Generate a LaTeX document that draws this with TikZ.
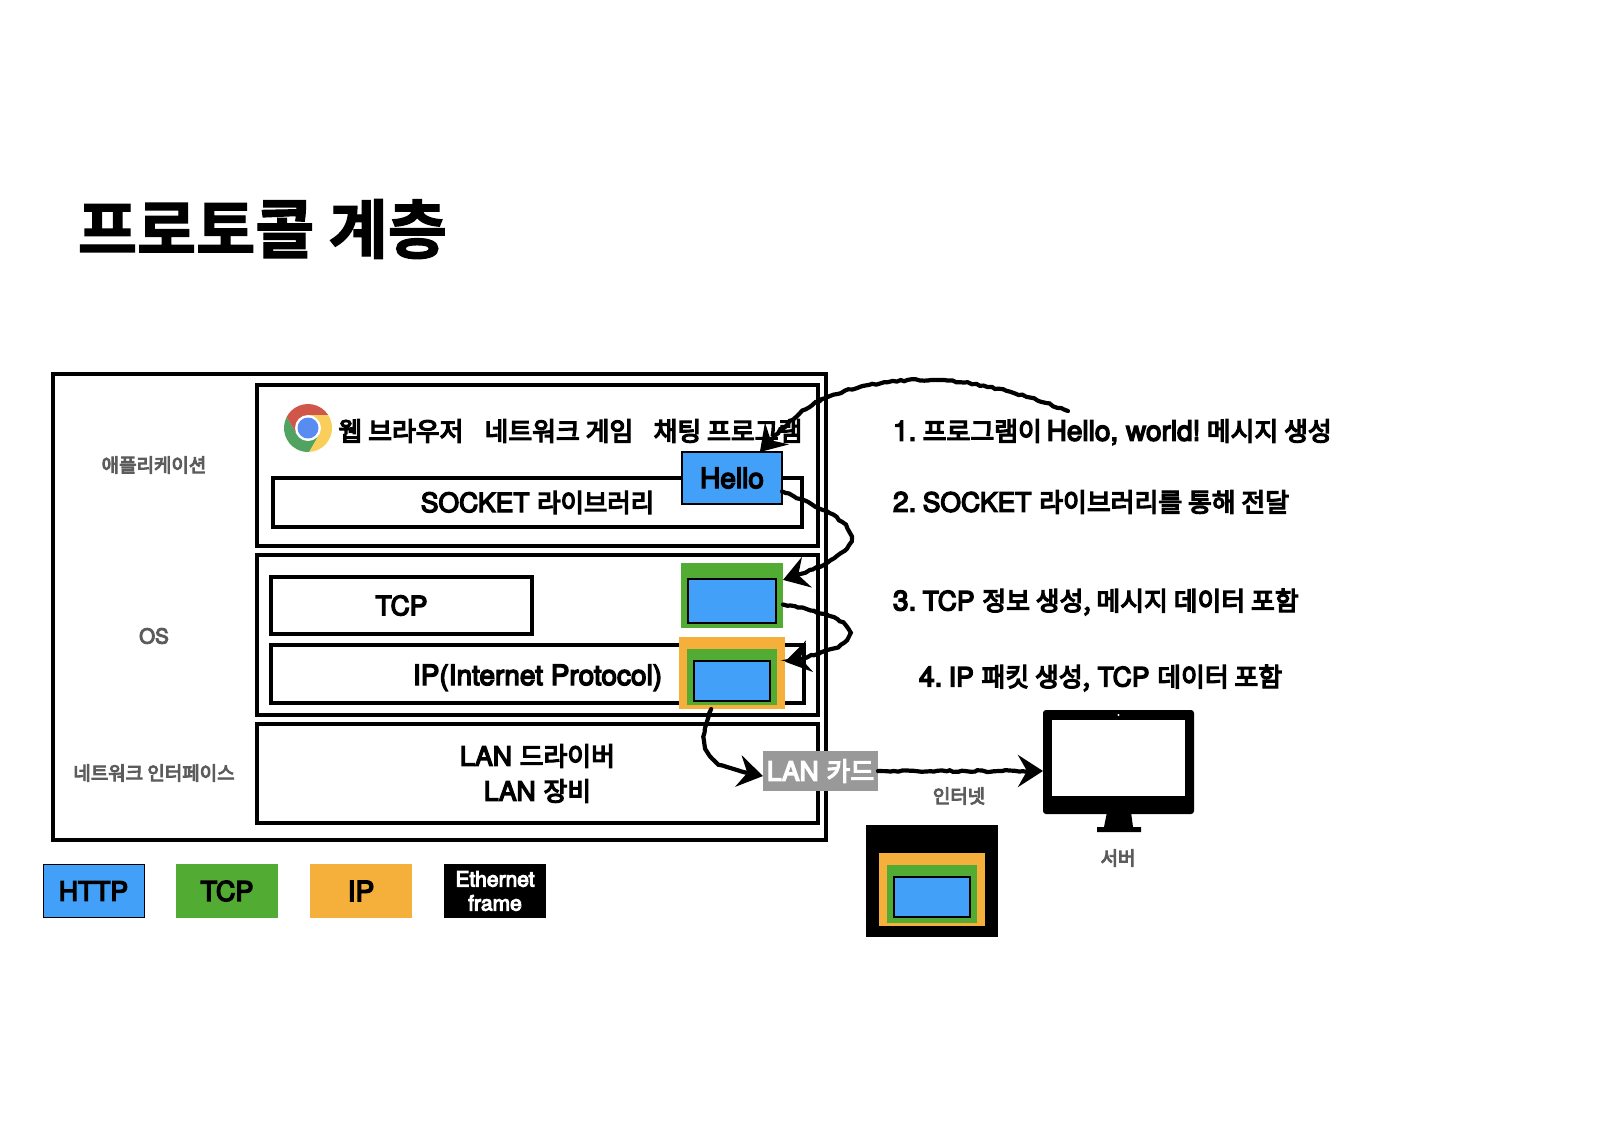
\documentclass[tikz,border=0pt]{standalone}
\usepackage{fontspec}
\usetikzlibrary{arrows.meta,decorations.pathmorphing}
\setmainfont[FakeBold=5]{TeX Gyre Heros}
\newfontfamily\kofont[FakeBold=5,Scale=0.925]{Noto Sans CJK KR}
\newfontfamily\kotitle[FakeBold=2]{Noto Sans CJK KR Bold}
\newcommand{\KO}[1]{{\kofont #1}}
\newcommand{\CP}[1]{{\fontsize{26.5}{26.5}\selectfont #1}}
\newcommand{\fsz}[1]{\fontsize{#1}{#1}\selectfont}
\definecolor{blueb}{HTML}{42A0F8}
\definecolor{greenb}{HTML}{52AB32}
\definecolor{orangeb}{HTML}{F4B03A}
\definecolor{greyb}{HTML}{999999}
\definecolor{greyt}{HTML}{5C5C5C}
\tikzset{
  plain/.style={inner sep=0,outer sep=0},
  bigbox/.style={plain,draw=black,line width=4,fill=white},
  solid1/.style={plain,fill=#1},
  blueframe/.style={plain,fill=blueb,draw=black,line width=2},
  lab/.style={plain,font=\fsz{28},text=black,align=center},
  side/.style={plain,font=\fsz{20.5},text=greyt,align=center},
  step1/.style={plain,font=\fsz{28},text=black,anchor=west},
  leg/.style={plain,font=\fsz{28},align=center,minimum width=102,minimum height=54},
  sketch/.style={line width=4.2,line cap=round,decorate,
    decoration={random steps,segment length=4,amplitude=0.9,post length=12},
    -{Stealth[length=25,width=32,inset=9]}}
}
\begin{document}
\begin{tikzpicture}[x=1pt,y=-1pt]
\useasboundingbox (0,0) rectangle (1598,1128);
\fill[white] (0,0) rectangle (1598,1128);

\node[plain,anchor=west,font={\fsz{64.2}\kotitle}] (title) at (78,229) {프로토콜 계층};

\node[bigbox,minimum width=773,minimum height=466] (outer) at (439.5,607) {};
\node[bigbox,minimum width=561,minimum height=161] (app) at (537.5,465.5) {};
\node[bigbox,minimum width=561,minimum height=160] (os) at (537.5,635) {};
\node[bigbox,minimum width=561,minimum height=99,font=\fsz{28},align=center] (net) at (537.5,773.5) {\CP{LAN} \KO{드라이버}\\[7pt]\CP{LAN} \KO{장비}};

\node[side] (s1) at (154,465) {\KO{애플리케이션}};
\node[side] (s2) at (154,636) {OS};
\node[side] (s3) at (154,773) {\KO{네트워크 인터페이스}};

% chrome logo
\begin{scope}[shift={(308,428)},y=1pt]
  \fill[fill={rgb,255:red,208;green,86;blue,74}] (0,13) -- (32.8:24) arc[start angle=32.8,end angle=152.8,radius=24] -- (210:13) -- cycle;
  \fill[fill={rgb,255:red,80;green,163;blue,96}] (210:13) -- (152.8:24) arc[start angle=152.8,end angle=272.8,radius=24] -- (330:13) -- cycle;
  \fill[fill={rgb,255:red,249;green,206;blue,91}] (330:13) -- (272.8:24) arc[start angle=272.8,end angle=392.8,radius=24] -- (0,13) -- cycle;
  \fill[white] (0,0) circle (13);
  \fill[fill={rgb,255:red,88;green,140;blue,240}] (0,0) circle (10.5);
\end{scope}

\node[lab] (t1) at (401,431) {\KO{웹 브라우저}};
\node[lab] (t2) at (559,431) {\KO{네트워크 게임}};
\node[lab] (t3) at (728,431) {\KO{채팅 프로그램}};

\node[bigbox,minimum width=529,minimum height=49,font=\fsz{27.5}] (socket) at (537.5,502.5) {\CP{SOCKET} \KO{라이브러리}};
\node[bigbox,minimum width=261,minimum height=57,font=\fsz{28}] (tcp) at (401.5,605.5) {\CP{TCP}};
\node[bigbox,minimum width=533,minimum height=58,font=\fsz{28}] (ip) at (537.5,674) {\raisebox{-11pt}[0pt][0pt]{IP(Internet Protocol)}};

\node[blueframe,minimum width=100,minimum height=52,font=\fsz{28}] (hello) at (732,478) {Hello};

\node[solid1=greenb,minimum width=102,minimum height=65] (g1) at (732,595.5) {};
\node[blueframe,minimum width=88,minimum height=44] (b1) at (732,601) {};

\node[solid1=orangeb,minimum width=106,minimum height=72] (o2) at (732,673) {};
\node[solid1=greenb,minimum width=90,minimum height=56] (g2) at (732,677) {};
\node[blueframe,minimum width=76,minimum height=40] (b2) at (732,681) {};

\node[solid1=greyb,minimum width=115,minimum height=40,font=\fsz{28},text=white] (lan) at (820.5,771) {\CP{LAN} \KO{카드}};

% monitor
\fill[black] (1107,812) -- (1131,812) -- (1133,827) -- (1141,827) -- (1141,832) -- (1097,832) -- (1097,827) -- (1104,827) -- cycle;
\node[plain,fill=black,rounded corners=3,minimum width=151,minimum height=104] (monitor) at (1118.5,762) {};
\node[plain,fill=white,minimum width=133,minimum height=76] (screen) at (1118.5,758) {};
\fill[white] (1118.5,715) circle (1.2);

\node[side] (inet) at (959,796) {\KO{인터넷}};
\node[side] (srv) at (1118,858) {\KO{서버}};

% packet
\node[solid1=black,minimum width=132,minimum height=112] (p0) at (932,881) {};
\node[solid1=orangeb,minimum width=106,minimum height=73] (p1) at (932,889.5) {};
\node[solid1=greenb,minimum width=90,minimum height=58] (p2) at (932,893.5) {};
\node[blueframe,minimum width=76,minimum height=40] (p3) at (932,896.5) {};

% legend
\node[leg,fill=blueb,draw=black,line width=1,minimum width=101,minimum height=53,font=\fsz{26.5}] (l1) at (93.5,891) {HTTP};
\node[leg,fill=greenb,font=\fsz{27}] (l2) at (227,891) {TCP};
\node[leg,fill=orangeb] (l3) at (361,891) {IP};
\node[leg,fill=black,text=white,font=\fsz{21}] (l4) at (495,891) {Ethernet\\[3pt]frame};

% steps
\node[step1] (a1) at (893,432) {1.\hspace{-4pt} \KO{프로그램이}\hspace{-3pt} Hello, world!\hspace{-4pt} \KO{메시지 생성}};
\node[step1] (a2) at (893,502) {2.\hspace{-4pt} \CP{SOCKET} \KO{라이브러리를 통해 전달}};
\node[step1] (a3) at (893,602) {3.\hspace{-4pt} \CP{TCP} \KO{정보 생성, 메시지 데이터 포함}};
\node[step1] (a4) at (919,678) {4.\hspace{-4pt} \CP{IP} \KO{패킷 생성,} \CP{TCP} \KO{데이터 포함}};

% connectors
\coordinate (c1) at (1068,411);
\draw[sketch] (c1) .. controls (1000,385) and (920,364) .. (830,396) .. controls (800,408) and (780,430) .. (hello.43);
\draw[sketch] (hello.-15) .. controls (815,505) and (851,520) .. (851,537) .. controls (851,555) and (815,570) .. (g1.17);
\draw[sketch] (g1.-10) .. controls (815,610) and (850,620) .. (850,633) .. controls (850,648) and (815,655) .. (o2.12);
\draw[sketch] (o2.-120) .. controls (705,722) and (702,735) .. (705,745) .. controls (710,768) and (735,770) .. (lan.-175);
\draw[sketch] (lan.east) -- (lan.east -| monitor.west);
\end{tikzpicture}
\end{document}
